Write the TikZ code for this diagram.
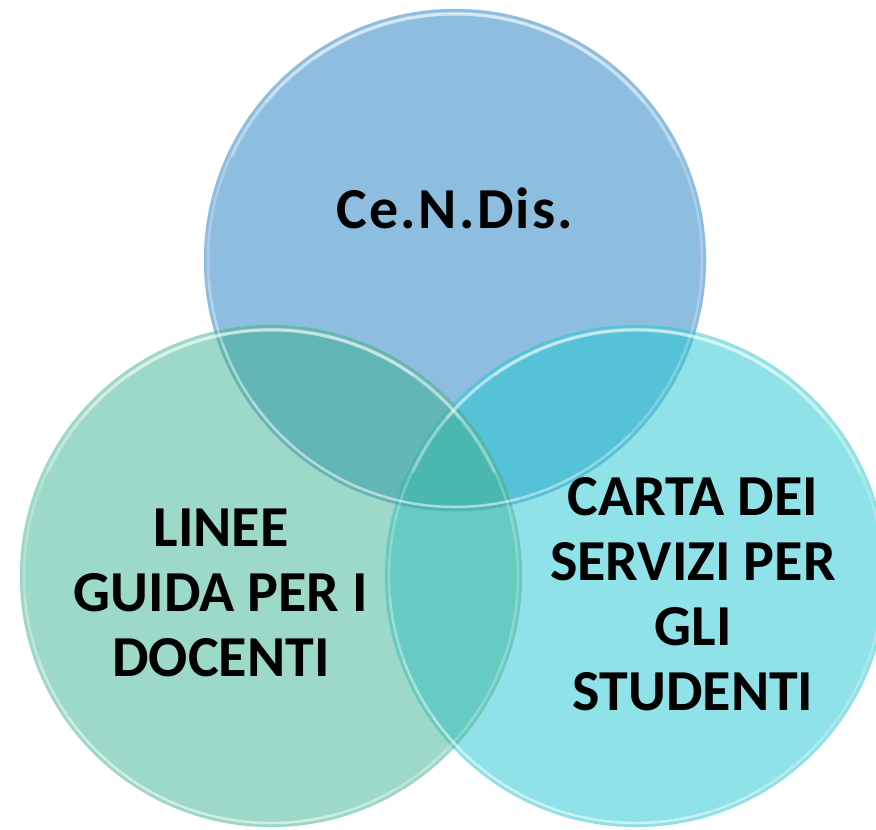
\documentclass[tikz,border=0pt]{standalone}
\usepackage{fontspec}
\setmainfont{Carlito}
\usetikzlibrary{calc}
\definecolor{cendis}{HTML}{8EBEDF}
\definecolor{linee}{HTML}{9CD9C8}
\definecolor{carta}{HTML}{8FE2E7}
\definecolor{cendislinee}{HTML}{62B6B4}
\definecolor{cendiscarta}{HTML}{55C2D8}
\definecolor{lineecarta}{HTML}{66CBC0}
\definecolor{tutti}{HTML}{4AB8AE}
\tikzset{venntext/.style={font=\fontsize{58}{65}\selectfont\bfseries, align=center, inner sep=0pt}}

\begin{document}
\begin{tikzpicture}[x=1pt,y=-1pt]
   \useasboundingbox (0,0) rectangle (876,830);
   \clip (0,0) rectangle (876,830);
   \def\rad{251}
   \coordinate (cendis) at (455,260);
   \coordinate (linee) at (271,576);
   \coordinate (carta) at (636,576);
   \fill[cendis] (cendis) circle (\rad);
   \fill[linee] (linee) circle (\rad);
   \fill[carta] (carta) circle (\rad);
   \begin{scope} \clip (cendis) circle (\rad); \fill[cendislinee] (linee) circle (\rad); \end{scope}
   \begin{scope} \clip (cendis) circle (\rad); \fill[cendiscarta] (carta) circle (\rad); \end{scope}
   \begin{scope} \clip (linee) circle (\rad); \fill[lineecarta] (carta) circle (\rad); \end{scope}
   \begin{scope} \clip (cendis) circle (\rad); \clip (linee) circle (\rad); \fill[tutti] (carta) circle (\rad); \end{scope}
   % glass rims
   \foreach \c in {cendis,linee,carta} {
      \draw[\c!75!black, opacity=0.2, line width=0.6pt] (\c) circle (\rad);
      \draw[white, opacity=0.25, line width=2.5pt] (\c) circle ({\rad-4});
      \foreach \a in {35,50,65} { % fading highlights, top and bottom
         \draw[white, opacity=0.25, line width=3pt, line cap=round] ($(\c)+({-90-\a}:{\rad-5})$) arc ({-90-\a}:{-90+\a}:{\rad-5});
         \draw[white, opacity=0.15, line width=2.5pt, line cap=round] ($(\c)+({110-\a}:{\rad-4})$) arc ({110-\a}:{110+\a}:{\rad-4});
      }
   }
   \node[venntext] (tcendis) at (455,208) {\addfontfeatures{LetterSpace=4}Ce.N.Dis.};
   \node[venntext] (tlinee) at (221,593) {LINEE\\GUIDA PER I\\DOCENTI};
   \node[venntext] (tcarta) at (693,594) {CARTA DEI\\SERVIZI PER\\GLI\\STUDENTI};
\end{tikzpicture}
\end{document}
